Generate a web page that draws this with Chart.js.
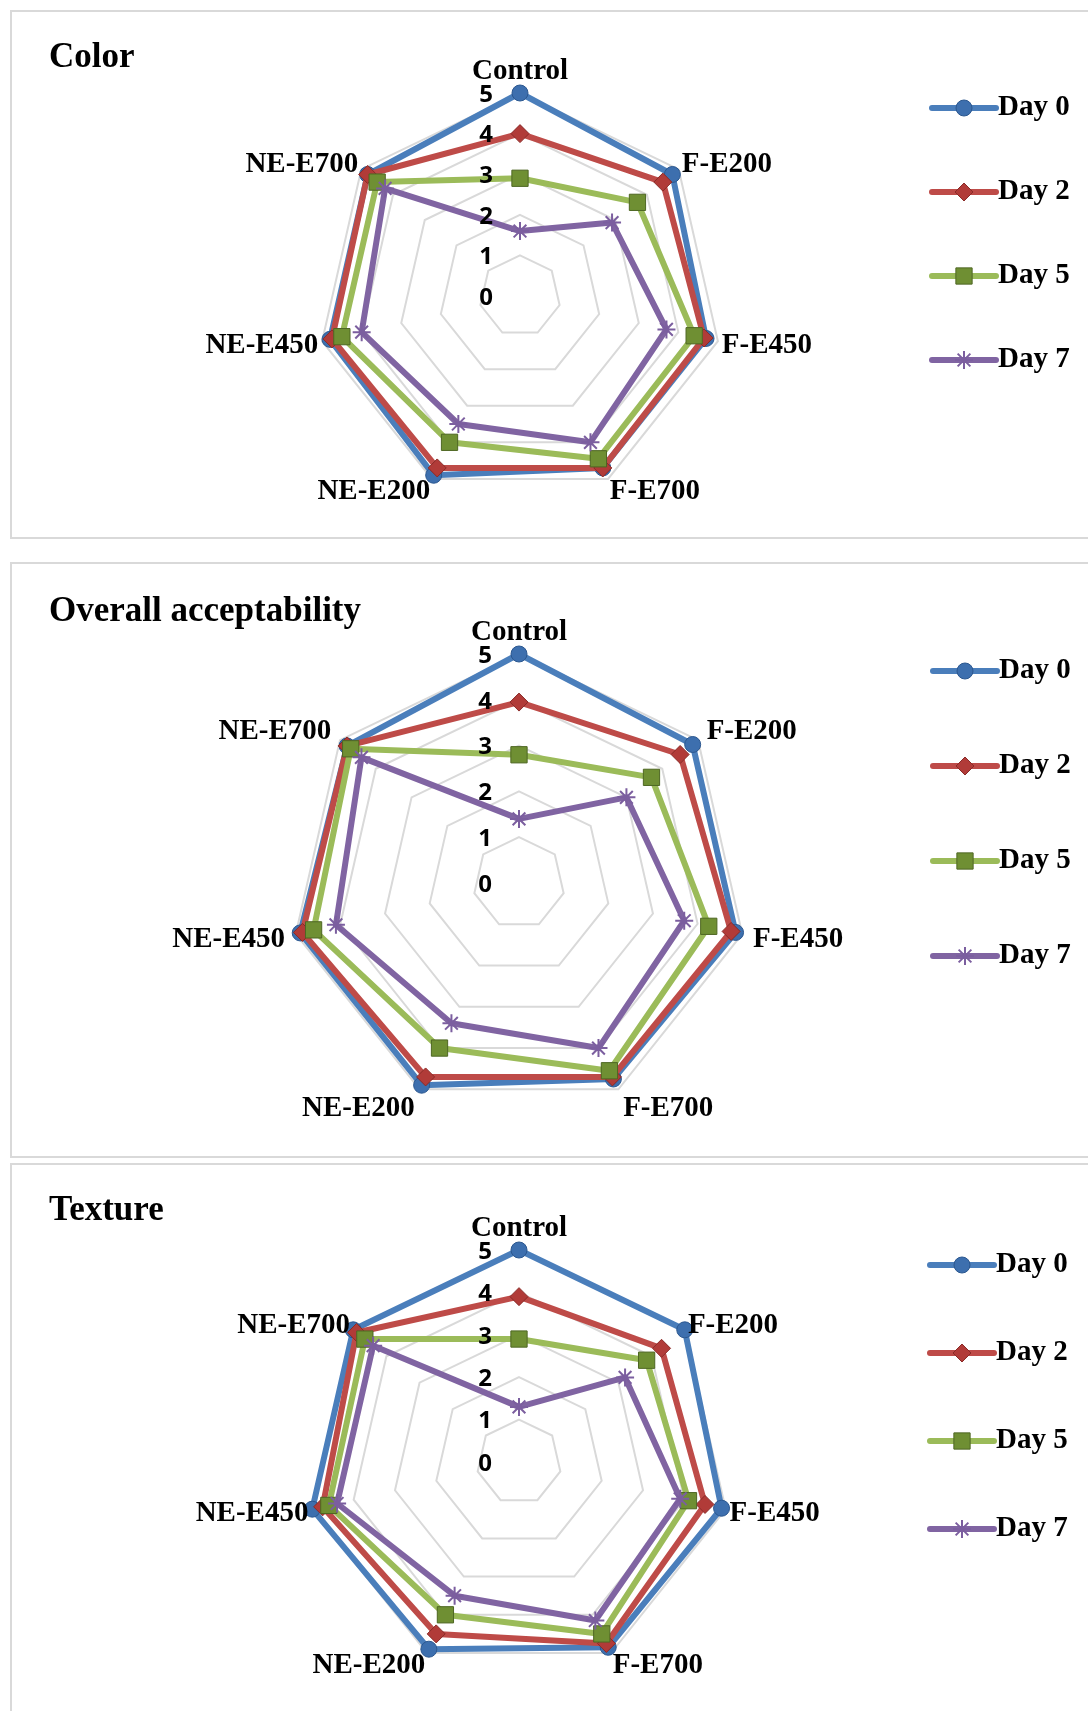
<!DOCTYPE html>
<html lang="en">
<head>
<meta charset="UTF-8">
<title>Sensory scores during storage</title>
<script src="https://cdn.jsdelivr.net/npm/chart.js@4.4.1/dist/chart.umd.min.js"></script>
<style>
  body { margin: 0; width: 1088px; height: 1711px; overflow: hidden; background: #fff; position: relative; }
  .panel { position: absolute; left: 10px; width: 1100px; border: 2px solid #d9d9d9; box-sizing: border-box; }
  canvas { position: absolute; left: 0; }
</style>
</head>
<body>
<div class="panel" style="top:10px;height:529px"></div>
<div class="panel" style="top:562px;height:596px"></div>
<div class="panel" style="top:1163px;height:600px"></div>
<canvas id="colorChart" width="1088" height="550" style="top:0"></canvas>
<canvas id="overallChart" width="1088" height="610" style="top:550px"></canvas>
<canvas id="textureChart" width="1088" height="551" style="top:1160px"></canvas>
<script>
// categories and series
const attributes = ['Control', 'F-E200', 'F-E450', 'F-E700', 'NE-E200', 'NE-E450', 'NE-E700'];
const dayNames = ['Day 0', 'Day 2', 'Day 5', 'Day 7'];
const scoreTicks = [0, 1, 2, 3, 4, 5];

// Color
const colorDay0 = [5.0, 4.8, 4.7, 4.7, 4.9, 4.8, 4.8];
const colorDay2 = [4.0, 4.5, 4.65, 4.7, 4.7, 4.75, 4.8];
const colorDay5 = [2.9, 3.7, 4.4, 4.45, 4.0, 4.5, 4.5];
const colorDay7 = [1.6, 2.9, 3.7, 4.0, 3.5, 4.0, 4.25];

// Overall acceptability
const overallDay0 = [5.0, 4.85, 4.85, 4.75, 4.9, 4.9, 4.8];
const overallDay2 = [3.95, 4.5, 4.75, 4.7, 4.7, 4.85, 4.8];
const overallDay5 = [2.8, 3.7, 4.25, 4.55, 4.0, 4.6, 4.7];
const overallDay7 = [1.4, 3.0, 3.7, 4.0, 3.4, 4.1, 4.4];

// Texture
const textureDay0 = [5.0, 5.0, 4.9, 4.85, 4.9, 5.0, 5.0];
const textureDay2 = [3.9, 4.3, 4.5, 4.75, 4.5, 4.75, 4.9];
const textureDay5 = [2.9, 3.85, 4.1, 4.5, 4.0, 4.6, 4.65];
const textureDay7 = [1.3, 3.2, 3.9, 4.15, 3.5, 4.4, 4.4];

const seriesStyle = [
  { line: '#4a7ebb', fill: '#3d6fae', edge: '#2b578f', shape: 'circle', size: 8, edgeWidth: 1 },
  { line: '#be4b48', fill: '#b13b38', edge: '#8a2a27', shape: 'rectRot', size: 9, edgeWidth: 1 },
  { line: '#9bbb59', fill: '#6f8f33', edge: '#4e6723', shape: 'rect', size: 11.5, edgeWidth: 1 },
  { line: '#8064a2', fill: '#8064a2', edge: '#7b5e9f', shape: 'star', size: 9, edgeWidth: 2 }
];

const serif = '"Liberation Serif", "Times New Roman", serif';
// vertical nudge of each category label (Excel centres them beside the vertex)
const labelLift = [0, -2, 3, 9, 9, 3, -2];

const sensoryDecor = {
  id: 'sensoryDecor',
  afterDraw(chart, args, opts) {
    const ctx = chart.ctx;
    const scale = chart.scales.r;
    const R = scale.drawingArea;
    ctx.save();

    // title
    ctx.fillStyle = '#000';
    ctx.font = 'bold 35px ' + serif;
    ctx.textAlign = 'left';
    ctx.textBaseline = 'alphabetic';
    ctx.fillText(opts.title, 49, opts.titleY);

    // value ticks, left of the vertical axis
    ctx.font = 'bold 24px "Open Sans", sans-serif';
    ctx.textAlign = 'right';
    ctx.textBaseline = 'middle';
    scale.ticks.forEach(t => {
      const y = scale.yCenter - scale.getDistanceFromCenterForValue(t.value);
      ctx.fillText(String(t.value), scale.xCenter - 27, y + 2);
    });

    // category labels
    ctx.font = 'bold 29px ' + serif;
    chart.data.labels.forEach((lab, i) => {
      if (i === 0) {
        const p = scale.getPointPosition(0, R + 14);
        ctx.textAlign = 'center';
        ctx.textBaseline = 'alphabetic';
        ctx.fillText(lab, p.x, p.y);
        return;
      }
      const p = scale.getPointPosition(i, R + opts.gap);
      ctx.textAlign = p.x > scale.xCenter ? 'left' : 'right';
      ctx.textBaseline = 'middle';
      ctx.fillText(lab, p.x, p.y + labelLift[i]);
    });

    // legend: line with marker, then the series name
    chart.data.datasets.forEach((ds, k) => {
      const y = opts.legendY + k * opts.legendStep;
      const x0 = opts.legendX;
      ctx.strokeStyle = ds.borderColor;
      ctx.lineWidth = ds.borderWidth;
      ctx.lineCap = 'round';
      ctx.beginPath();
      ctx.moveTo(x0, y);
      ctx.lineTo(x0 + 64, y);
      ctx.stroke();
      ctx.lineCap = 'butt';
      ctx.fillStyle = ds.pointBackgroundColor;
      ctx.strokeStyle = ds.pointBorderColor;
      ctx.lineWidth = ds.pointBorderWidth;
      Chart.helpers.drawPoint(ctx, {
        pointStyle: ds.pointStyle, rotation: 0, radius: ds.pointRadius, borderWidth: ds.pointBorderWidth
      }, x0 + 32, y);
      ctx.fillStyle = '#000';
      ctx.font = 'bold 29px ' + serif;
      ctx.textAlign = 'left';
      ctx.textBaseline = 'middle';
      ctx.fillText(ds.label, x0 + 66, y);
    });
    ctx.restore();
  }
};

function makeChart(id, title, series, box) {
  const canvas = document.getElementById(id);
  const W = canvas.width, H = canvas.height;
  const datasets = series.map((vals, k) => {
    const st = seriesStyle[k];
    return {
      label: dayNames[k],
      data: vals,
      fill: false,
      borderColor: st.line,
      backgroundColor: st.fill,
      borderWidth: 6,
      borderJoinStyle: 'round',
      pointStyle: st.shape,
      pointRadius: st.size,
      pointHoverRadius: st.size,
      pointBackgroundColor: st.fill,
      pointBorderColor: st.edge,
      pointBorderWidth: st.edgeWidth,
      order: series.length - k,
      clip: false
    };
  });

  return new Chart(canvas, {
    type: 'radar',
    data: { labels: attributes, datasets: datasets },
    options: {
      responsive: false,
      animation: false,
      events: [],
      layout: {
        padding: {
          left: box.cx - box.r,
          right: W - box.cx - box.r,
          top: box.cy - box.top - box.r,
          bottom: box.top + H - box.cy - box.r
        }
      },
      plugins: {
        legend: { display: false },
        tooltip: { enabled: false },
        sensoryDecor: {
          title: title,
          titleY: box.titleY - box.top,
          gap: box.gap,
          legendX: box.legendX,
          legendY: box.legendY - box.top,
          legendStep: box.legendStep
        }
      },
      scales: {
        r: {
          min: scoreTicks[0],
          max: scoreTicks[scoreTicks.length - 1],
          ticks: { stepSize: 1, display: false },
          pointLabels: { display: false },
          angleLines: { display: false },
          grid: { color: '#d9d9d9', lineWidth: 2 }
        }
      }
    },
    plugins: [sensoryDecor]
  });
}

makeChart('colorChart', 'Color',
  [colorDay0, colorDay2, colorDay5, colorDay7],
  { top: 0, cx: 520.7, cy: 296, r: 203.5, gap: 4, titleY: 66.5, legendX: 932, legendY: 108, legendStep: 84 });

makeChart('overallChart', 'Overall acceptability',
  [overallDay0, overallDay2, overallDay5, overallDay7],
  { top: 550, cx: 519.3, cy: 883, r: 229, gap: 11, titleY: 621, legendX: 933, legendY: 671, legendStep: 95 });

makeChart('textureChart', 'Texture',
  [textureDay0, textureDay2, textureDay5, textureDay7],
  { top: 1160, cx: 519.3, cy: 1462, r: 212.5, gap: 4, titleY: 1220, legendX: 930, legendY: 1265, legendStep: 88 });
</script>
</body>
</html>
